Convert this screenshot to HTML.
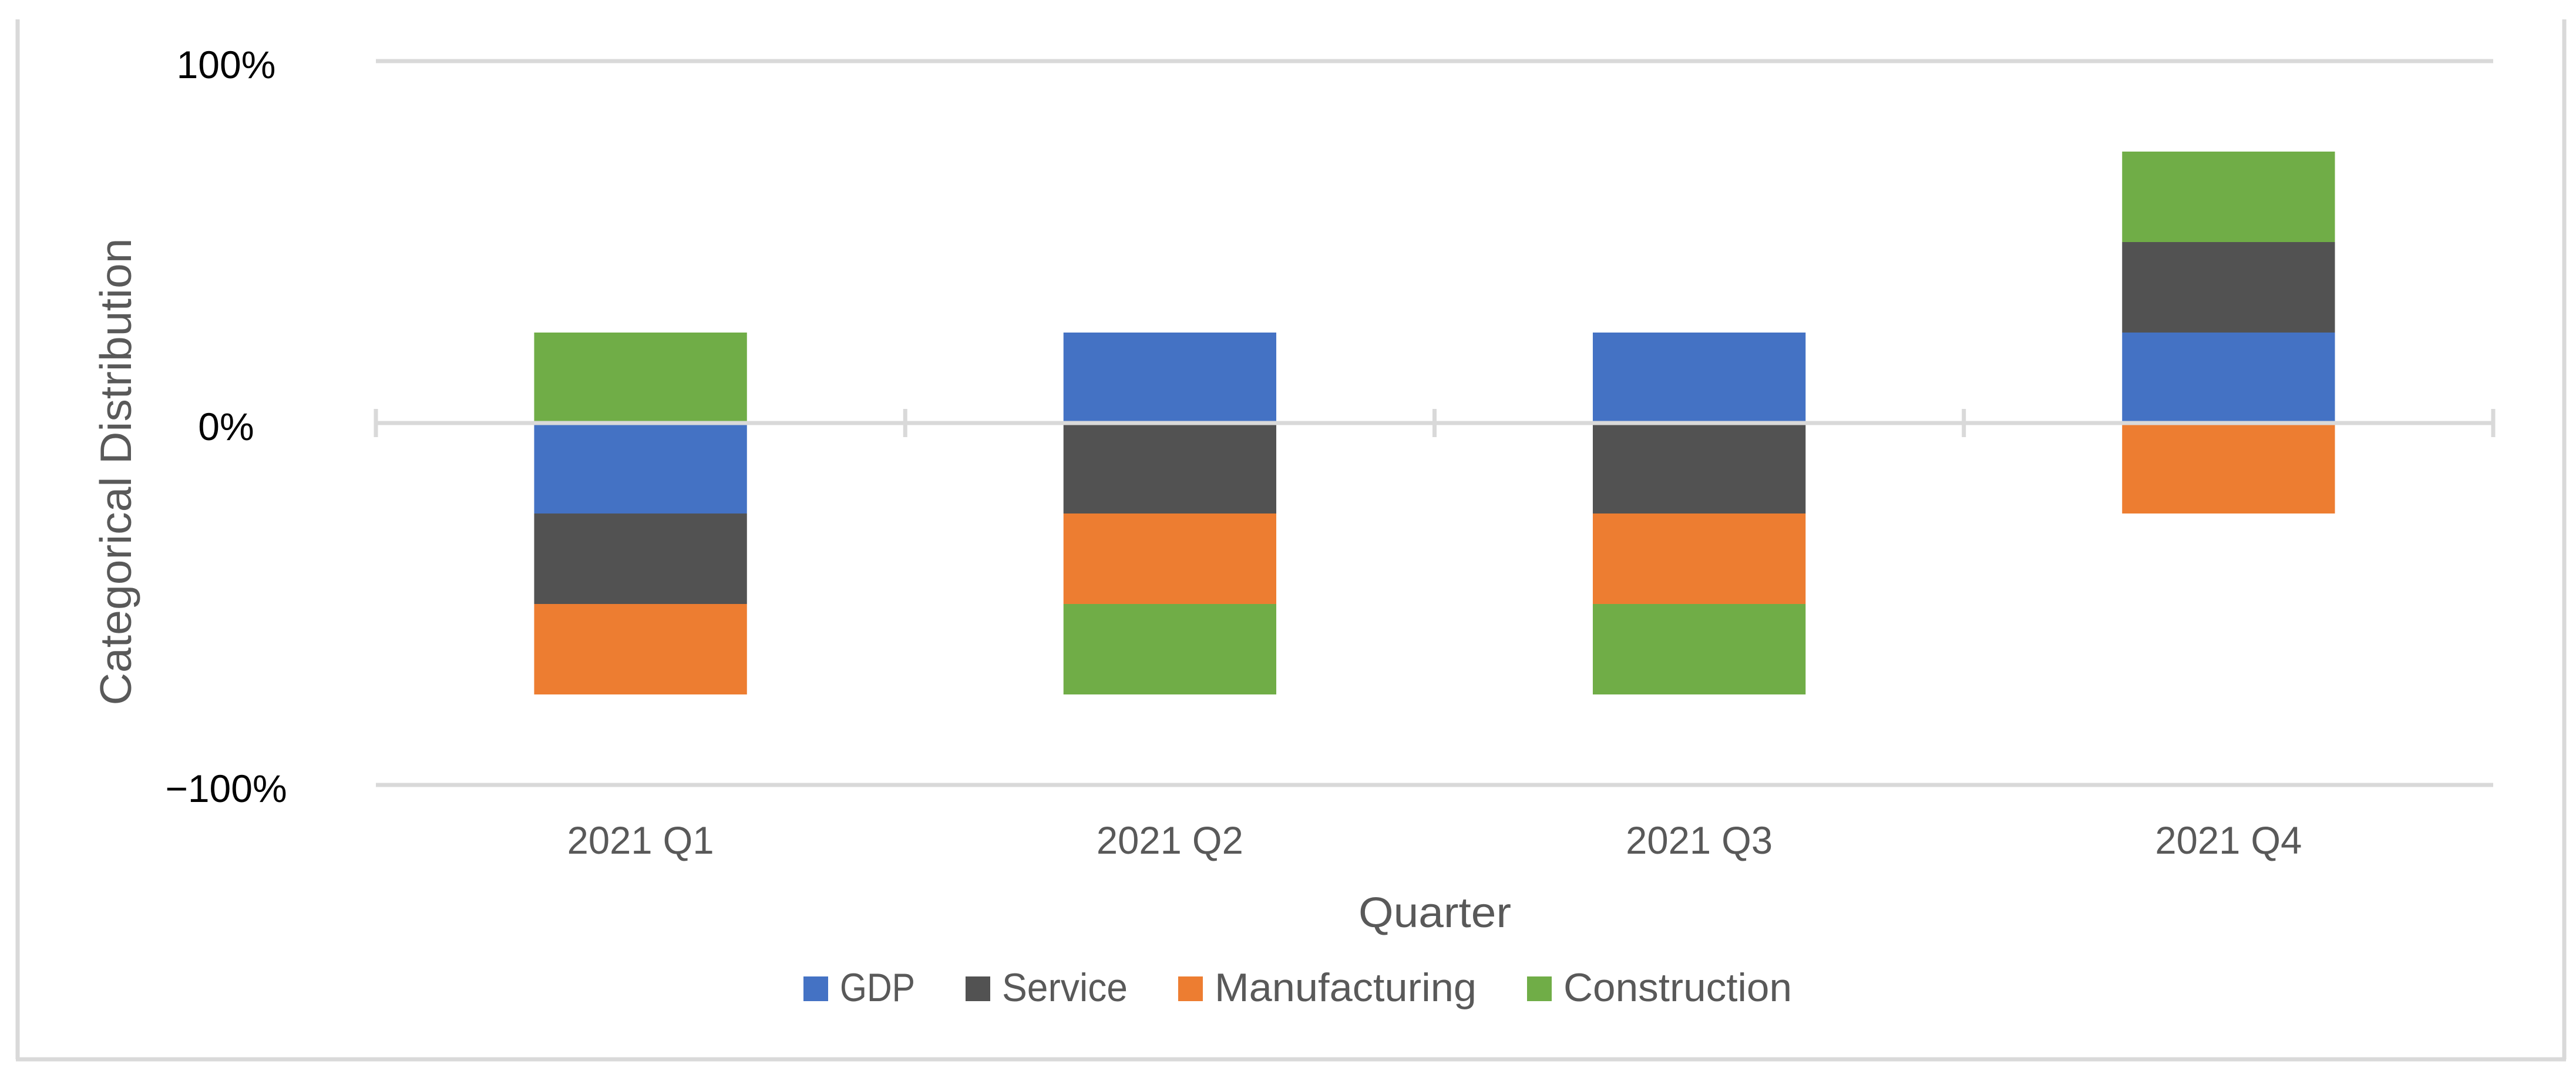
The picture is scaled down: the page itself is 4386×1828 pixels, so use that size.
<!DOCTYPE html>
<html><head><meta charset="utf-8"><style>
html,body{margin:0;padding:0;background:#fff;}
svg{display:block;}
</style></head><body>
<svg id="chart" width="4386" height="1828" viewBox="0 0 4386 1828" xmlns="http://www.w3.org/2000/svg" font-family="'Liberation Sans', sans-serif">
<g stroke="#D9D9D9" stroke-width="7" fill="none">
<line x1="30" y1="33" x2="30" y2="1803"/>
<line x1="4366" y1="33" x2="4366" y2="1803"/>
<line x1="27" y1="1803" x2="4369" y2="1803"/>
</g>
<g id="grid"></g>
<g id="bars"></g>
<g id="axis"></g>
<g id="labels"></g>
<text transform="translate(223,803) rotate(-90)" text-anchor="middle" font-size="75" fill="#595959" textLength="795" lengthAdjust="spacingAndGlyphs">Categorical Distribution</text>
<text x="2443" y="1578" text-anchor="middle" font-size="72" fill="#595959" textLength="260" lengthAdjust="spacingAndGlyphs">Quarter</text>
<g id="legend"></g>
</svg>
<script>
const categories = ["2021 Q1", "2021 Q2", "2021 Q3", "2021 Q4"];
const seriesNames = ["GDP", "Service", "Manufacturing", "Construction"];
const gdp = [-25, 25, 25, 25];
const service = [-25, -25, -25, 25];
const manufacturing = [-25, -25, -25, -25];
const construction = [25, -25, -25, 25];
const yTicks = [100, 0, -100];
const yTickLabels = ["100%", "0%", "\u2212100%"];

const colors = ["#4472C4", "#525252", "#ED7D31", "#70AD47"];
const allSeries = [gdp, service, manufacturing, construction];
const NS = "http://www.w3.org/2000/svg";
const plotL = 640, plotR = 4245, yTop = 104, yBot = 1336, yMin = -100, yMax = 100;
const catW = (plotR - plotL) / categories.length;
function yScale(v){ return yTop + (yMax - v) / (yMax - yMin) * (yBot - yTop); }
function xCenter(i){ return plotL + catW * (i + 0.5); }
function mk(tag, attrs, parent){ const e = document.createElementNS(NS, tag); for (const k in attrs) e.setAttribute(k, attrs[k]); parent.appendChild(e); return e; }

const grid = document.getElementById('grid');
yTicks.forEach((t, i) => {
  if (t === 0) return;
  const l = mk('line', {x1: plotL, x2: plotR, y1: yScale(t), y2: yScale(t), stroke: '#D9D9D9', 'stroke-width': 7}, grid);
  
  
});

const barsG = document.getElementById('bars');
const barW = catW * 0.402;
categories.forEach((c, i) => {
  let pos = 0, neg = 0;
  allSeries.forEach((s, si) => {
    const v = s[i];
    let y0, y1;
    if (v >= 0) { y0 = pos; y1 = pos + v; pos = y1; } else { y0 = neg; y1 = neg + v; neg = y1; }
    const top = yScale(Math.max(y0, y1)), bot = yScale(Math.min(y0, y1));
    const r = mk('rect', {x: xCenter(i) - barW / 2, y: top, width: barW, height: bot - top, fill: colors[si]}, barsG);
    
    
  });
});

const axisG = document.getElementById('axis');
const y0 = yScale(0);
const zl = mk('line', {x1: plotL, x2: plotR, y1: y0, y2: y0, stroke: '#D9D9D9', 'stroke-width': 7}, axisG);


for (let i = 0; i <= categories.length; i++) {
  const x = plotL + catW * i;
  const tk = mk('line', {x1: x, x2: x, y1: y0 - 24, y2: y0 + 24, stroke: '#D9D9D9', 'stroke-width': 7}, axisG);
  
  
}

const labG = document.getElementById('labels');
yTicks.forEach((t, i) => {
  const tx = mk('text', {x: 385, y: yScale(t) + 29, 'text-anchor': 'middle', 'font-size': 66, fill: '#000'}, labG);
  tx.textContent = yTickLabels[i];
  
  
});
categories.forEach((c, i) => {
  const tx = mk('text', {x: xCenter(i), y: 1453, 'text-anchor': 'middle', 'font-size': 66, fill: '#595959', textLength: 250, lengthAdjust: 'spacingAndGlyphs'}, labG);
  tx.textContent = c;
  
  
});

const legG = document.getElementById('legend');
const legSwX = [1368, 1644, 2006, 2600];
const legTW = [128, 214, 446, 389];
seriesNames.forEach((n, i) => {
  const sw = mk('rect', {x: legSwX[i], y: 1662, width: 42, height: 42, fill: colors[i]}, legG);
  
  
  const tx = mk('text', {x: legSwX[i] + 62, y: 1704, 'font-size': 68, fill: '#595959', textLength: legTW[i], lengthAdjust: 'spacingAndGlyphs'}, legG);
  tx.textContent = n;
  
  
});
</script>
</body></html>
